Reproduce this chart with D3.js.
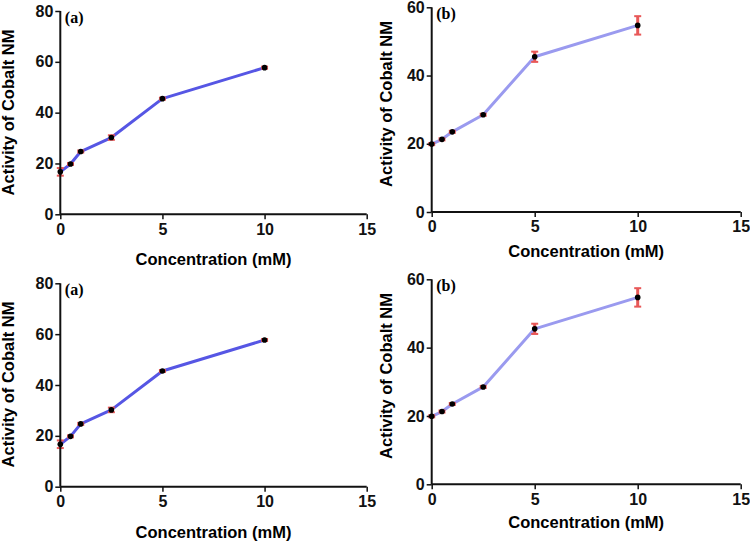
<!DOCTYPE html>
<html>
<head>
<meta charset="utf-8">
<script src="https://cdn.jsdelivr.net/npm/d3@7"></script>
<style>
  body { margin: 0; background: #fff; }
  svg { display: block; }
</style>
</head>
<body>
<div id="vis"></div>
<script>
// data
const concentration = [0, 0.5, 1, 2.5, 5, 10];
const activityA = [16.7, 19.8, 24.7, 30.2, 45.5, 57.7];
const errorA = [1.5, 0.4, 0.4, 0.9, 0.4, 0.4];
const activityB = [19.9, 21.3, 23.5, 28.5, 45.5, 54.7];
const errorB = [0.3, 0.3, 0.3, 0.3, 1.5, 2.7];
const xTicks = [0, 5, 10, 15];
const yTicksA = [0, 20, 40, 60, 80];
const yTicksB = [0, 20, 40, 60];

const size = {width: 750, height: 542};

const svg = d3.select("#vis")
  .append("svg")
  .attr("width", size.width)
  .attr("height", size.height);

const panels = [
  {tag: "(a)", y: activityA, err: errorA, yMax: 80, yTicks: yTicksA, color: "#5656e4",
   left: 60.3, right: 366.7, top: 11, bottom: 214.3, ytx: 14, yty: 112.5, xtBase: 265},
  {tag: "(b)", y: activityB, err: errorB, yMax: 60, yTicks: yTicksB, color: "#9a9aef",
   left: 431.7, right: 740.7, top: 7.3, bottom: 212, ytx: 391.5, yty: 104, xtBase: 256.5},
  {tag: "(a)", y: activityA, err: errorA, yMax: 80, yTicks: yTicksA, color: "#5656e4",
   left: 60.3, right: 366.7, top: 283.3, bottom: 486.7, ytx: 14, yty: 384.5, xtBase: 537.5},
  {tag: "(b)", y: activityB, err: errorB, yMax: 60, yTicks: yTicksB, color: "#9a9aef",
   left: 431.7, right: 740.7, top: 279.3, bottom: 484.3, ytx: 391.5, yty: 376, xtBase: 527.5}
];

panels.forEach(p => drawPanel(svg.append("g"), p));

function drawPanel(g, p){
  const x = d3.scaleLinear().domain([0, 15]).range([p.left, p.right]);
  const y = d3.scaleLinear().domain([0, p.yMax]).range([p.bottom, p.top]);
  const pts = concentration.map((c, i) => ({x: c, y: p.y[i], e: p.err[i]}));

  // line
  g.append("path")
    .datum(pts)
    .attr("fill", "none")
    .attr("stroke", p.color)
    .attr("stroke-width", 3)
    .attr("stroke-linejoin", "round")
    .attr("d", d3.line().x(d => x(d.x)).y(d => y(d.y)));

  // error bars
  const eb = g.selectAll(".err")
    .data(pts)
    .join("g")
    .attr("class", "err")
    .attr("stroke", "#e85858")
    .attr("stroke-width", 3);
  eb.append("line")
    .attr("x1", d => x(d.x)).attr("x2", d => x(d.x))
    .attr("y1", d => y(d.y - d.e)).attr("y2", d => y(d.y + d.e));
  eb.append("line")
    .attr("x1", d => x(d.x) - 3.5).attr("x2", d => x(d.x) + 3.5)
    .attr("y1", d => y(d.y - d.e)).attr("y2", d => y(d.y - d.e))
    .attr("stroke-width", 2);
  eb.append("line")
    .attr("x1", d => x(d.x) - 3.5).attr("x2", d => x(d.x) + 3.5)
    .attr("y1", d => y(d.y + d.e)).attr("y2", d => y(d.y + d.e))
    .attr("stroke-width", 2);

  // axes
  const xAxis = g.append("g")
    .attr("transform", `translate(0, ${p.bottom})`)
    .call(d3.axisBottom(x).tickValues(xTicks).tickSize(5).tickPadding(4));
  const yAxis = g.append("g")
    .attr("transform", `translate(${p.left}, 0)`)
    .call(d3.axisLeft(y).tickValues(p.yTicks).tickSize(5).tickPadding(2));

  [xAxis, yAxis].forEach(a => {
    a.select(".domain").attr("stroke", "#111").attr("stroke-width", 2);
    a.selectAll(".tick line").attr("stroke", "#111").attr("stroke-width", 1.5);
    a.selectAll("text")
      .style("font-family", "'Liberation Sans', Arial, sans-serif")
      .style("font-size", "16px")
      .style("font-weight", "bold")
      .style("fill", "#111");
  });
  // plain domain lines without outer ticks
  xAxis.select(".domain").attr("d", `M${p.left},0H${p.right}`);
  yAxis.select(".domain").attr("d", `M0,${p.bottom}V${p.top}`);

  // points
  g.selectAll(".dot")
    .data(pts)
    .join("circle")
    .attr("class", "dot")
    .attr("cx", d => x(d.x))
    .attr("cy", d => y(d.y))
    .attr("r", 2.8)
    .attr("fill", "#000");

  // titles
  g.append("text")
    .attr("x", (p.left + p.right) / 2)
    .attr("y", p.xtBase)
    .attr("text-anchor", "middle")
    .style("font-family", "'Liberation Sans', Arial, sans-serif")
    .style("font-size", "16.5px")
    .style("font-weight", "bold")
    .text("Concentration (mM)");

  g.append("text")
    .attr("transform", `translate(${p.ytx}, ${p.yty}) rotate(-90)`)
    .attr("text-anchor", "middle")
    .style("font-family", "'Liberation Sans', Arial, sans-serif")
    .style("font-size", "16.5px")
    .style("font-weight", "bold")
    .text("Activity of Cobalt NM");

  g.append("text")
    .attr("x", p.left + 4.5)
    .attr("y", p.top + 11.5)
    .style("font-family", "'Liberation Serif', 'Times New Roman', serif")
    .style("font-size", "16px")
    .style("font-weight", "bold")
    .text(p.tag);
}
</script>
</body>
</html>
